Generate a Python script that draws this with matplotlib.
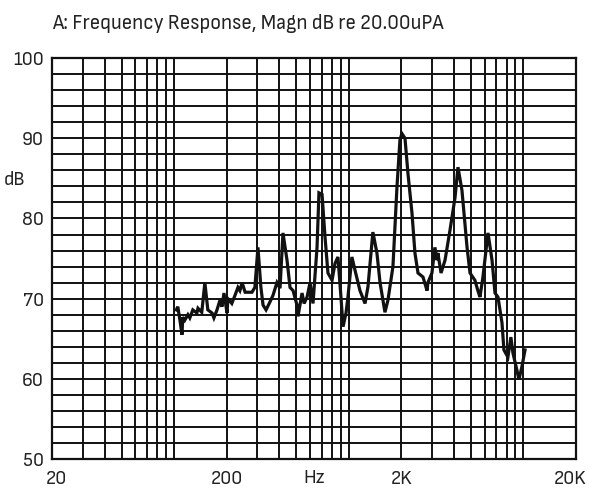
import numpy as np
import matplotlib
matplotlib.use("Agg")
import matplotlib.pyplot as plt
from matplotlib.ticker import FixedLocator, LogLocator, MultipleLocator, NullFormatter
from matplotlib.transforms import ScaledTranslation

plt.rcParams['font.family'] = ['Sofia Sans Semi Condensed', 'DejaVu Sans']

# ------------------------------ Data ------------------------------
freq_hz = [103, 105, 108, 111, 112, 115, 120, 123, 128, 135, 137, 144, 150, 156, 165, 169,
           176, 183, 188, 193, 201, 203, 214, 223, 232, 238, 245, 255, 265, 279, 290, 302,
           314, 323, 336, 354, 368, 388, 404, 420, 443, 461, 480, 505, 512, 540, 555, 577,
           600, 624, 658, 675, 703, 731, 760, 802, 834, 867, 902, 927, 964, 989, 1042, 1084,
           1159, 1239, 1288, 1374, 1449, 1510, 1611, 1675, 1790, 1888, 1963, 2014, 2098, 2182,
           2300, 2392, 2490, 2660, 2806, 2838, 2992, 3112, 3198, 3236, 3374, 3556, 3794, 4056,
           4218, 4446, 4754, 4944, 5272, 5484, 5636, 5862, 6266, 6608, 6872, 7146, 7534, 7730,
           8148, 8472, 8710, 9170, 9418, 9796, 10210]
magn_db = [68.6, 69.0, 67.3, 65.5, 67.7, 67.3, 68.0, 67.6, 68.6, 68.2, 68.8, 68.3, 72.0, 68.6, 68.2, 67.6,
           68.6, 69.8, 69.0, 70.7, 68.2, 70.0, 69.4, 70.4, 71.4, 71.0, 72.0, 70.8, 70.8, 70.8, 71.4, 76.4,
           71.4, 69.2, 68.6, 69.6, 70.4, 72.0, 71.3, 78.2, 74.8, 71.4, 71.0, 69.2, 67.8, 70.7, 69.4, 70.2,
           72.0, 69.4, 76.4, 83.2, 83.0, 77.7, 73.2, 72.3, 74.4, 75.2, 70.2, 66.5, 68.2, 70.2, 75.2, 73.6,
           71.0, 69.4, 71.5, 78.3, 75.7, 72.0, 68.3, 69.8, 74.0, 84.0, 89.8, 90.6, 90.0, 85.6,
           80.7, 75.7, 73.2, 72.7, 71.0, 72.0, 73.2, 76.4, 74.8, 75.7, 73.2, 74.8, 78.5, 82.6,
           86.4, 83.5, 76.4, 73.2, 72.3, 71.0, 70.2, 72.7, 78.2, 74.8, 70.7, 70.2, 67.0, 63.6,
           62.7, 65.2, 63.2, 61.1, 59.9, 61.5, 63.6]

x_ticks = [20, 200, 2000, 20000]
x_labels = ['20', '200', '2K', '20K']
y_ticks = [50, 60, 70, 80, 90, 100]

# ------------------------------ Figure ------------------------------
fig = plt.figure(figsize=(5.89, 4.93), dpi=100)
ax = fig.add_axes([0.0883, 0.069, 0.8897, 0.813])

ax.semilogx(freq_hz, magn_db, color='#111111', linewidth=2.3, solid_joinstyle='miter', zorder=3)

ax.set_xlim(20, 20000)
ax.set_ylim(50, 100)

ax.xaxis.set_major_locator(FixedLocator(x_ticks))
ax.set_xticklabels(x_labels)
ax.xaxis.set_minor_locator(LogLocator(base=10, subs=np.arange(1, 10)))
ax.xaxis.set_minor_formatter(NullFormatter())
ax.yaxis.set_major_locator(FixedLocator(y_ticks))
ax.yaxis.set_minor_locator(MultipleLocator(2))

ax.grid(True, which='both', color='#111111', linewidth=1.4)
ax.tick_params(which='both', length=0, labelsize=14.5, colors='#222222', pad=6)
ax.tick_params(axis='x', pad=8)
for s in ax.spines.values():
    s.set_linewidth(1.6)
    s.set_color('#111111')

# shift the edge labels like the original (20 a bit right, 20K a bit left)
xlabs = ax.get_xticklabels()
xlabs[0].set_transform(xlabs[0].get_transform() + ScaledTranslation(0.04, 0, fig.dpi_scale_trans))
xlabs[-1].set_transform(xlabs[-1].get_transform() + ScaledTranslation(-0.06, 0, fig.dpi_scale_trans))

ax.text(-0.072, 0.697, 'dB', transform=ax.transAxes, fontsize=14.5, color='#222222',
        ha='center', va='center')
ax.text(0.501, -0.047, 'Hz', transform=ax.transAxes, fontsize=14.5, color='#222222',
        ha='center', va='center')

fig.text(0.088, 0.953, 'A: Frequency Response, Magn dB re 20.00uPA', fontsize=15.2,
         color='#222222', ha='left', va='center')

fig.savefig('out.png', dpi=100)
